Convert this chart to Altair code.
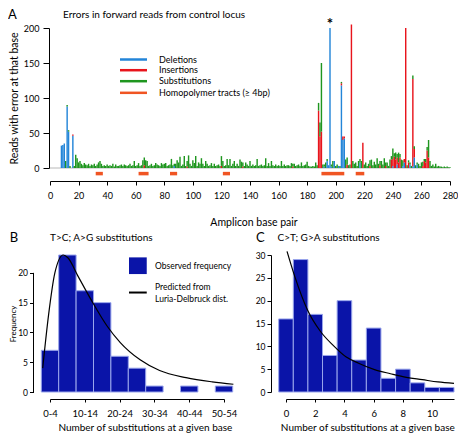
import altair as alt
import pandas as pd

FONT = "Lato"

# ---------------- Panel A data ----------------
# substitutions per base (bases 1..280)
sub_vals = [
    0, 0, 0, 0, 0, 0, 0, 0, 0, 0,
    10, 2, 2, 3, 0, 0, 3, 19, 14, 8,
    10, 6, 4, 7, 5, 4, 6, 3, 5, 4,
    6, 3, 5, 8, 10, 6, 3, 4, 3, 5,
    3, 4, 3, 6, 2, 5, 3, 3, 4, 5,
    3, 5, 4, 3, 4, 6, 3, 4, 10, 3,
    4, 7, 3, 4, 11, 11, 11, 10, 3, 4,
    6, 3, 4, 7, 5, 4, 3, 7, 5, 6,
    7, 3, 4, 5, 13, 4, 3, 6, 11, 8,
    16, 3, 5, 17, 3, 8, 18, 6, 3, 11,
    7, 17, 3, 8, 6, 14, 6, 3, 10, 6,
    3, 4, 7, 3, 6, 3, 4, 5, 3, 14,
    10, 3, 4, 13, 4, 13, 3, 6, 10, 3,
    6, 3, 12, 9, 6, 3, 8, 5, 3, 10,
    3, 5, 3, 4, 13, 3, 4, 5, 3, 4,
    14, 3, 7, 3, 10, 4, 3, 5, 3, 4,
    3, 10, 3, 5, 3, 4, 4, 3, 7, 4,
    6, 3, 4, 5, 3, 8, 3, 4, 5, 9,
    3, 2, 2, 3, 2, 8, 4, 11, 20, 98,
    5, 3, 8, 3, 0, 0, 3, 10, 0, 3,
    5, 0, 3, 2, 0, 0, 12, 10, 4, 5,
    0, 10, 6, 8, 3, 10, 5, 10, 0, 5,
    8, 3, 6, 8, 12, 4, 9, 5, 14, 6,
    6, 10, 5, 14, 5, 8, 3, 12, 5, 15,
    5, 10, 5, 14, 5, 12, 8, 0, 0, 4,
    3, 3, 3, 5, 4, 4, 3, 6, 3, 8,
    6, 3, 5, 5, 25, 10, 3, 5, 2, 6,
    2, 3, 2, 2, 1, 2, 1, 2, 1, 1,
]
del_pos = [8, 9, 10, 12, 13, 16, 87, 192, 194, 195, 196, 197, 199, 202, 204, 205,
           206, 217, 240, 243, 247, 248, 252, 254, 255, 257]
del_vals = [32, 33, 35, 88, 52, 46, 3, 2, 10, 4, 200, 2, 10, 3, 118, 40,
            42, 8, 3, 5, 3, 8, 5, 2, 15, 5]
ins_pos = [16, 66, 96, 120, 135, 170, 188, 189, 190, 204, 205, 206, 208, 211, 219,
           224, 231, 235, 239, 240, 241, 242, 243, 244, 245, 248, 249, 251, 254,
           255, 261, 262, 263, 264, 265]
ins_vals = [2, 4, 2, 3, 2, 2, 82, 45, 52, 3, 5, 3, 5, 205, 36,
            3, 4, 3, 12, 10, 16, 12, 10, 8, 15, 5, 200, 8, 125,
            12, 3, 10, 8, 25, 15]
tract_start = [32, 62, 84, 121, 190, 214]
tract_end = [37, 69, 89, 126, 206, 220]
types_a = ["Deletions", "Insertions", "Substitutions", "Homopolymer tracts (≥ 4bp)"]
colors_a = ["#2385d8", "#e8141c", "#1f961f", "#f05523"]
x_ticks_a = list(range(0, 281, 20))
y_ticks_a = [0, 50, 100, 150, 200]

# ---------------- Panel B data ----------------
b_bin_start = [0, 5, 10, 15, 20, 25, 30, 35, 40, 45, 50]
b_counts = [7, 23, 17, 15, 6, 4, 1, 0, 1, 0, 1]
b_curve_x = [-0.1, 1.6, 3.4, 5.8, 7.2, 10, 13.8, 18.5, 22.2, 27.9, 33.5, 41.1, 48.6, 54.7]
b_curve_y = [4, 13, 20, 23, 22.5, 19.5, 15.5, 11, 8.3, 5.4, 3.6, 2.4, 1.7, 1.3]
b_legend = ["Observed frequency", "Predicted from", "Luria-Delbruck dist."]
b_ticks = [2, 12, 22, 32, 42, 52]

# ---------------- Panel C data ----------------
c_bins = list(range(12))
c_counts = [16, 29, 17, 8, 20, 7, 14, 3, 5, 2, 1, 1]
c_curve_x = [0.07, 0.61, 1.48, 2.35, 3.23, 4.1, 4.97, 6.06, 7.15, 8.24, 9.33, 10.4, 11.5]
c_curve_y = [30.8, 25.2, 17.9, 13.3, 10.2, 7.7, 6.3, 4.9, 4.0, 3.2, 2.7, 2.2, 1.9]
c_ticks = [0, 2, 4, 6, 8, 10]

XTITLE_BC = "Number of substitutions at a given base"
BLUE = "#0a14a8"
EDGE = "#9aa6ec"

# ---------------- build tables ----------------
del_map = dict(zip(del_pos, del_vals))
ins_map = dict(zip(ins_pos, ins_vals))
rows = []
for i, s in enumerate(sub_vals):
    base = i + 1
    acc = 0
    for t, v in (("Deletions", del_map.get(base, 0)),
                 ("Insertions", ins_map.get(base, 0)),
                 ("Substitutions", s)):
        if v > 0:
            rows.append({"x0": base - 0.5, "x1": base + 0.5, "y0": acc, "y1": acc + v, "type": t})
            acc += v
df_a = pd.DataFrame(rows)
df_tracts = pd.DataFrame({"start": tract_start, "end": tract_end})
df_leg_a = pd.DataFrame({"type": types_a, "ly": [155, 139.7, 124, 107.4]})
one = pd.DataFrame({"k": [0]})


def label(text, x, y, size, align="left", weight="normal"):
    return alt.Chart(one).mark_text(text=text, align=align, baseline="middle", fontSize=size,
                                    font=FONT, fontWeight=weight).encode(
        x=alt.datum(x), y=alt.datum(y))


xA = alt.Scale(domain=[0, 280], nice=False, zero=False)
yA = alt.Scale(domain=[0, 200], nice=False)
colA = alt.Scale(domain=types_a, range=colors_a)

bars_a = alt.Chart(df_a).mark_rect().encode(
    x=alt.X("x0:Q", scale=xA, axis=alt.Axis(values=x_ticks_a, tickCount=40, offset=13, tickSize=4,
                                             labelPadding=6, labelFontSize=9, labelOverlap=False,
                                             format="d", title=None)),
    x2="x1:Q",
    y=alt.Y("y0:Q", scale=yA, axis=alt.Axis(values=y_ticks_a, tickCount=40, offset=1, tickSize=6,
                                             labelPadding=4, labelFontSize=9, labelOverlap=False,
                                             format="d",
                                             title="Reads with error at that base",
                                             titleFontSize=10.5, titlePadding=4)),
    y2="y1:Q",
    color=alt.Color("type:N", scale=colA, legend=None),
)
zero_a = alt.Chart(one).mark_rule(color="#b8b8b8", strokeWidth=1).encode(
    x=alt.datum(0), x2=alt.datum(280), y=alt.datum(0))
tracts = alt.Chart(df_tracts).mark_rule(color=colors_a[3], strokeWidth=3.5).encode(
    x="start:Q", x2="end:Q", y=alt.datum(-8))
leg_lines = alt.Chart(df_leg_a).mark_rule(strokeWidth=2.5).encode(
    x=alt.datum(49), x2=alt.datum(67.9), y="ly:Q",
    color=alt.Color("type:N", scale=colA, legend=None))
leg_text = alt.Chart(df_leg_a).mark_text(align="left", baseline="middle", fontSize=9,
                                         font=FONT).encode(
    x=alt.datum(76.3), y="ly:Q", text="type:N")

panel_a = alt.layer(
    zero_a, bars_a, tracts, leg_lines, leg_text,
    label("*", 196, 206, 15, align="center", weight="bold"),
    label("Errors in forward reads from control locus", 9.1, 219, 10),
    label("A", -29.4, 219, 13),
    label("Amplicon base pair", 142.8, -79, 10.5, align="center"),
).properties(width=400, height=140)

# ---------------- Panel B ----------------
df_b = pd.DataFrame({"start": b_bin_start, "count": b_counts})
df_b = df_b[df_b["count"] > 0].copy()
df_b["x0"] = df_b["start"] - 0.5
df_b["x1"] = df_b["start"] + 4.5
df_b["y0"] = 0
df_bc = pd.DataFrame({"x": b_curve_x, "y": b_curve_y})
xB = alt.Scale(domain=[2, 52], nice=False, zero=False)
yB = alt.Scale(domain=[0, 23], nice=False)

bars_b = alt.Chart(df_b).mark_rect(color=BLUE, stroke=EDGE, strokeWidth=1).encode(
    x=alt.X("x0:Q", scale=xB, axis=alt.Axis(values=b_ticks, tickCount=40, offset=7,
                                             tickSize=3, labelPadding=6, labelFontSize=9.5,
                                             labelOverlap=False,
                                             labelExpr="(datum.value - 2) + '-' + (datum.value + 2)",
                                             title=None)),
    x2="x1:Q",
    y=alt.Y("count:Q", scale=yB, axis=alt.Axis(values=[0, 5, 10, 15, 20], tickCount=40, offset=16.5,
                                                domain=False, tickSize=4, labelPadding=2,
                                                labelFontSize=8.5, labelOverlap=False, format="d",
                                                title="Frequency",
                                                titleFontSize=8, titlePadding=0)),
    y2="y0:Q",
)
curve_b = alt.Chart(df_bc).mark_line(color="black", strokeWidth=1.2, interpolate="monotone").encode(
    x="x:Q", y="y:Q")
dom_b = alt.Chart(one).mark_rule(color="black", strokeWidth=1).encode(
    x=alt.datum(-2.74), y=alt.datum(0), y2=alt.datum(20))
leg_sq = alt.Chart(one).mark_rect(color=BLUE).encode(
    x=alt.datum(24.7), x2=alt.datum(29.8), y=alt.datum(19.8), y2=alt.datum(22.6))
leg_ln = alt.Chart(one).mark_rule(color="black", strokeWidth=2).encode(
    x=alt.datum(24.7), x2=alt.datum(29.8), y=alt.datum(16.7))
df_leg_b = pd.DataFrame({"label": b_legend, "ly": [21.2, 17.6, 15.6]})
leg_txt_b = alt.Chart(df_leg_b).mark_text(align="left", baseline="middle", fontSize=8.5,
                                          font=FONT).encode(
    x=alt.datum(32.2), y="ly:Q", text="label:N")
panel_b = alt.layer(
    bars_b, curve_b, dom_b, leg_sq, leg_ln, leg_txt_b,
    label("T>C; A>G substitutions", 2.03, 25.9, 10),
    label("B", -9.55, 25.9, 13),
    label(XTITLE_BC, 29.4, -6.0, 10, align="center"),
).properties(width=174, height=137)

# ---------------- Panel C ----------------
df_c = pd.DataFrame({"bin": c_bins, "count": c_counts})
df_c["x0"] = df_c["bin"] - 0.5
df_c["x1"] = df_c["bin"] + 0.5
df_c["y0"] = 0
df_cc = pd.DataFrame({"x": c_curve_x, "y": c_curve_y})
xC = alt.Scale(domain=[0, 11.5], nice=False, zero=False)
yC = alt.Scale(domain=[0, 30], nice=False)
bars_c = alt.Chart(df_c).mark_rect(color=BLUE, stroke=EDGE, strokeWidth=1).encode(
    x=alt.X("x0:Q", scale=xC, axis=alt.Axis(values=c_ticks, tickCount=40, offset=7,
                                             tickSize=3, labelPadding=6, labelFontSize=9.5,
                                             labelOverlap=False, format="d", title=None)),
    x2="x1:Q",
    y=alt.Y("count:Q", scale=yC, axis=alt.Axis(values=[0, 5, 10, 15, 20, 25, 30], tickCount=40,
                                                offset=15, tickSize=4, labelPadding=2,
                                                labelFontSize=8.5, labelOverlap=False, format="d",
                                                title=None)),
    y2="y0:Q",
)
curve_c = alt.Chart(df_cc).mark_line(color="black", strokeWidth=1.2, interpolate="monotone").encode(
    x="x:Q", y="y:Q")
panel_c = alt.layer(
    bars_c, curve_c,
    label("C>T; G>A substitutions", -0.58, 33.7, 10),
    label("C", -2.05, 33.7, 13),
    label(XTITLE_BC, 5.6, -7.8, 10, align="center"),
).properties(width=168, height=137)

chart = alt.vconcat(
    panel_a,
    alt.hconcat(panel_b, panel_c, spacing=18),
    spacing=2,
).properties(padding=0).configure_view(stroke=None).configure_axis(
    grid=False, domainColor="black", tickColor="black", labelColor="black",
    titleColor="black", labelFont=FONT, titleFont=FONT, titleFontWeight="normal",
    domainWidth=1, tickWidth=1, labelOverlap=False, labelFlush=False,
).configure_text(color="black")

chart.save("out.html", embed_options={"renderer": "svg", "actions": False})
